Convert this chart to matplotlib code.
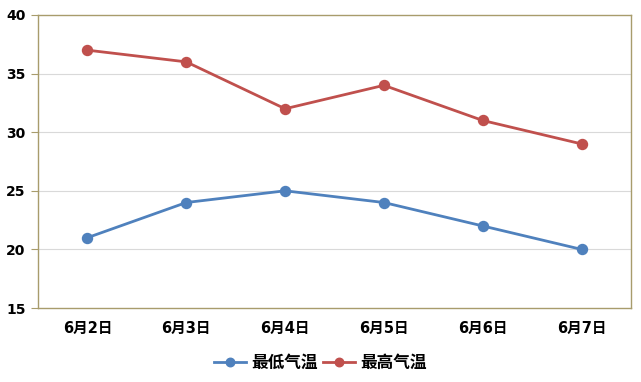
import matplotlib
matplotlib.use("Agg")
import matplotlib.pyplot as plt

fams = ['DejaVu Sans', 'Noto Sans CJK SC']
plt.rcParams['font.family'] = fams

dates = ["6月2日", "6月3日", "6月4日", "6月5日", "6月6日", "6月7日"]
low_temp = [21, 24, 25, 24, 22, 20]
high_temp = [37, 36, 32, 34, 31, 29]
y_ticks = [15, 20, 25, 30, 35, 40]

frame_col = '#a89c6c'

fig = plt.figure(figsize=(6.41, 3.82), dpi=100)
ax = fig.add_axes([38/641, (382-308)/382, 593/641, 293/382])

x = list(range(len(dates)))
ax.plot(x, low_temp, color='#4f81bd', lw=2.0, marker='o', ms=7.2, label='最低气温', zorder=3)
ax.plot(x, high_temp, color='#c0504d', lw=2.0, marker='o', ms=7.2, label='最高气温', zorder=3)

ax.set_xlim(-0.5, len(dates) - 0.5)
ax.set_ylim(15, 40)
ax.set_yticks(y_ticks)
ax.set_xticks(x)
ax.set_xticklabels(dates, fontsize=10.5, fontweight='bold')
for lab in ax.get_yticklabels():
    lab.set_fontsize(10)
    lab.set_fontweight('bold')

# light horizontal grid lines
for v in y_ticks[1:-1]:
    ax.axhline(v, color='#d9d9d9', lw=0.8, zorder=1)

for s in ax.spines.values():
    s.set_color(frame_col)
    s.set_linewidth(1.0)
ax.tick_params(axis='y', length=5, color=frame_col, pad=4)
ax.tick_params(axis='x', length=0, pad=9)

leg = fig.legend(loc='center', bbox_to_anchor=(0.5, 1 - 363/382), ncol=2, frameon=False,
                 prop={'family': fams, 'weight': 'bold', 'size': 12},
                 handlelength=1.9, columnspacing=0.3, handletextpad=0.36, markerscale=0.85)

fig.savefig('out.png', dpi=100)
